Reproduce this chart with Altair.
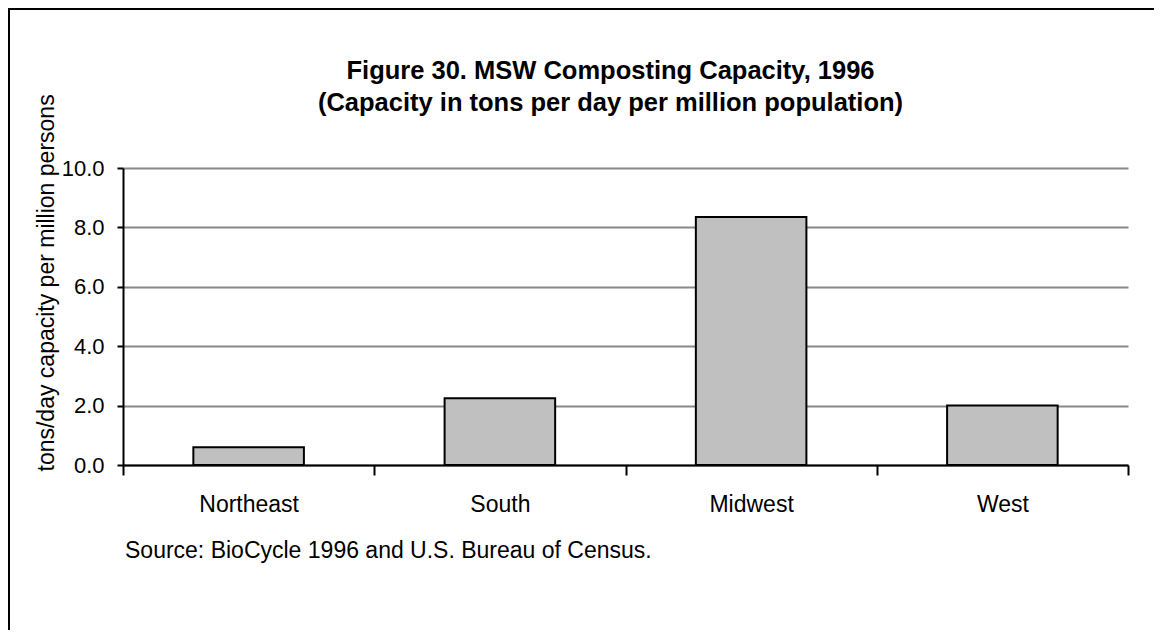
import altair as alt
import pandas as pd

regions = ["Northeast", "South", "Midwest", "West"]
capacity = [0.6, 2.25, 8.35, 2.0]
y_ticks = [0.0, 2.0, 4.0, 6.0, 8.0, 10.0]
title_lines = ["Figure 30. MSW Composting Capacity, 1996",
               "(Capacity in tons per day per million population)"]
y_title = "tons/day capacity per million persons"
source_note = ["Source: BioCycle 1996 and U.S. Bureau of Census."]

FONT = "Liberation Sans"
W, H = 1005, 297
PAD = {"left": 115, "top": 160, "right": 26, "bottom": 165}

df = pd.DataFrame({"region": regions, "capacity": capacity})
note_df = pd.DataFrame({"note": source_note})
frame_df = pd.DataFrame({"k": [0]})

bars = alt.Chart(df).mark_bar(
    fill="#c0c0c0", stroke="black", strokeWidth=2,
    width=alt.RelativeBandSize(0.44)
).encode(
    x=alt.X("region:N", sort=regions,
            scale=alt.Scale(paddingInner=0, paddingOuter=0),
            axis=alt.Axis(title=None, labelAngle=0, labelFontSize=23, labelFont=FONT,
                          labelColor="black", labelBaseline="alphabetic", labelPadding=36,
                          tickBand="extent", tickSize=10, tickWidth=2, tickColor="black",
                          domainColor="black", domainWidth=2, grid=False)),
    y=alt.Y("capacity:Q", scale=alt.Scale(domain=[0, 10], nice=False),
            axis=alt.Axis(values=y_ticks, format=".1f", title=y_title,
                          titleFont=FONT, titleFontSize=23, titleFontWeight="normal",
                          titleColor="black", titleAngle=270, titleAlign="left",
                          titleBaseline="alphabetic", titleX=-70, titleY=303,
                          labelFontSize=22, labelFont=FONT, labelColor="black",
                          labelPadding=13, tickSize=6, tickWidth=2, tickColor="black",
                          domainColor="black", domainWidth=2,
                          grid=True, gridColor="#888888", gridWidth=2)),
)

note = alt.Chart(note_df).mark_text(
    align="left", baseline="alphabetic", font=FONT, fontSize=23, color="black"
).encode(x=alt.value(2), y=alt.value(390), text="note:N")

left_border = alt.Chart(frame_df).mark_rule(color="black", strokeWidth=2).encode(
    x=alt.value(-114), y=alt.value(-160), y2=alt.value(462))
top_border = alt.Chart(frame_df).mark_rule(color="black", strokeWidth=2).encode(
    x=alt.value(-115), x2=alt.value(1031), y=alt.value(-159))

chart = alt.layer(bars, note, left_border, top_border).properties(
    width=W, height=H,
    title=alt.TitleParams(text=title_lines, font=FONT, fontSize=25.5, fontWeight="bold",
                          color="black", anchor="middle", frame="group", dx=-15,
                          offset=0, dy=109, lineHeight=32),
    autosize=alt.AutoSizeParams(type="none"),
    padding=PAD,
    background="white",
).configure_view(stroke=None)

chart.save("out.html", embed_options={"renderer": "svg", "actions": False})
